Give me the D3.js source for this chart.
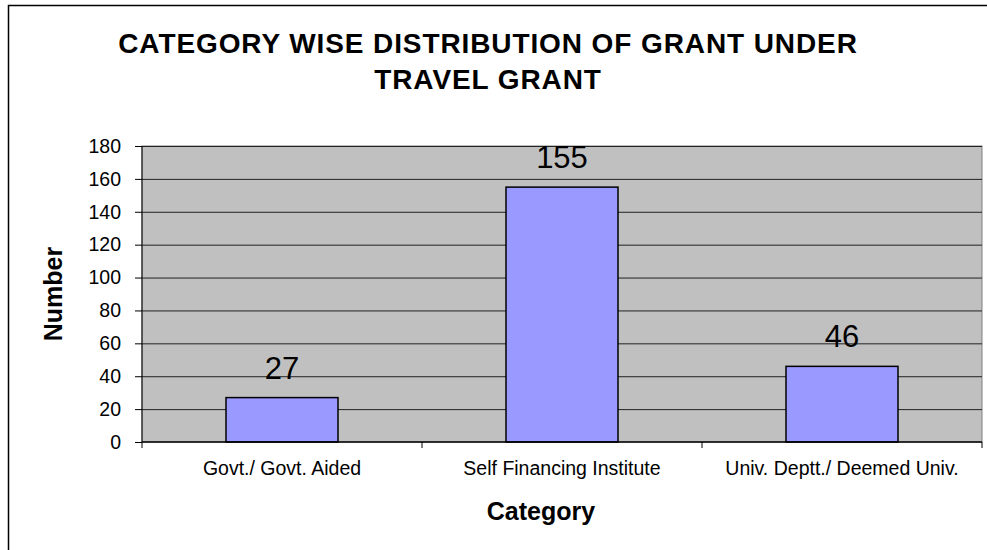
<!DOCTYPE html>
<html>
<head>
<meta charset="utf-8">
<script src="https://cdn.jsdelivr.net/npm/d3@7"></script>
<style>
  body { margin: 0; background: #fff; }
  text { font-family: "Liberation Sans", Arial, sans-serif; }
</style>
</head>
<body>
<svg id="drawing_region"></svg>
<script>
const categories = ["Govt./ Govt. Aided", "Self Financing Institute", "Univ. Deptt./ Deemed Univ."];
const values = [27, 155, 46];
const yTicks = [0, 20, 40, 60, 80, 100, 120, 140, 160, 180];
const titleLines = ["CATEGORY WISE DISTRIBUTION OF GRANT UNDER", "TRAVEL GRANT"];

const width = 987, height = 550;
const margin = {top: 146, right: 5, bottom: 108, left: 142};
const innerW = width - margin.left - margin.right;
const innerH = height - margin.top - margin.bottom;

const svg = d3.select('#drawing_region')
    .attr('width', width)
    .attr('height', height);

// outer chart border
svg.append('rect')
    .attr('x', 8.5).attr('y', 5.5)
    .attr('width', width + 10).attr('height', height + 10)
    .attr('fill', 'none').attr('stroke', '#000').attr('stroke-width', 1.5);

svg.selectAll('.title')
    .data(titleLines)
    .enter().append('text')
    .attr('x', 488)
    .attr('y', (d, i) => 53 + i * 36)
    .attr('text-anchor', 'middle')
    .attr('font-size', 28)
    .attr('letter-spacing', 0.9)
    .attr('font-weight', 'bold')
    .text(d => d);

const chart = svg.append('g')
    .attr('transform', `translate(${margin.left}, ${margin.top})`);

const xscale = d3.scaleBand().domain(categories).range([0, innerW]).paddingInner(0.6).paddingOuter(0.3);
const xband = d3.scaleBand().domain(categories).range([0, innerW]);
const yscale = d3.scaleLinear().domain([0, 180]).range([innerH, 0]);

chart.append('rect')
    .attr('width', innerW).attr('height', innerH)
    .attr('fill', '#c0c0c0').attr('stroke', '#808080');

chart.selectAll('.grid')
    .data(yTicks.filter(d => d > 0))
    .enter().append('line')
    .attr('x1', 0).attr('x2', innerW)
    .attr('y1', d => yscale(d) + 0.5).attr('y2', d => yscale(d) + 0.5)
    .attr('stroke', '#222').attr('stroke-width', 1);

chart.selectAll('.bar')
    .data(values)
    .enter().append('rect')
    .attr('x', (d, i) => xscale(categories[i]))
    .attr('y', d => yscale(d))
    .attr('width', xscale.bandwidth())
    .attr('height', d => innerH - yscale(d))
    .attr('fill', '#9999ff').attr('stroke', '#000').attr('stroke-width', 1.5);

chart.selectAll('.val')
    .data(values)
    .enter().append('text')
    .attr('x', (d, i) => xscale(categories[i]) + xscale.bandwidth() / 2)
    .attr('y', d => yscale(d) - 19)
    .attr('text-anchor', 'middle')
    .attr('font-size', 31)
    .text(d => d);

// axes
const yaxis = d3.axisLeft(yscale).tickValues(yTicks).tickSize(7).tickPadding(14);
const ygroup = chart.append('g').call(yaxis);
ygroup.select('.domain').attr('stroke', '#000').attr('d', `M0,0V${innerH}`);
ygroup.selectAll('text').attr('font-size', 19.5).attr('fill', '#000').attr('font-family', '"Liberation Sans", Arial, sans-serif');

const xgroup = chart.append('g').attr('transform', `translate(0,${innerH})`);
xgroup.append('line').attr('x1', 0).attr('x2', innerW).attr('stroke', '#000').attr('stroke-width', 1.5);
xgroup.selectAll('.tick')
    .data(categories.concat(['end']))
    .enter().append('line')
    .attr('x1', (d, i) => i < 3 ? xband(d) : innerW)
    .attr('x2', (d, i) => i < 3 ? xband(d) : innerW)
    .attr('y1', 0).attr('y2', 6)
    .attr('stroke', '#000');
xgroup.selectAll('.lab')
    .data(categories)
    .enter().append('text')
    .attr('x', d => xband(d) + xband.bandwidth() / 2)
    .attr('y', 33)
    .attr('text-anchor', 'middle')
    .attr('font-size', 19.5)
    .text(d => d);

svg.append('text')
    .attr('x', 541)
    .attr('y', 520)
    .attr('text-anchor', 'middle')
    .attr('font-size', 25).attr('font-weight', 'bold')
    .text('Category');

svg.append('text')
    .attr('transform', 'rotate(-90)')
    .attr('x', -(margin.top + innerH / 2))
    .attr('y', 62)
    .attr('text-anchor', 'middle')
    .attr('font-size', 25).attr('font-weight', 'bold')
    .text('Number');
</script>
</body>
</html>
